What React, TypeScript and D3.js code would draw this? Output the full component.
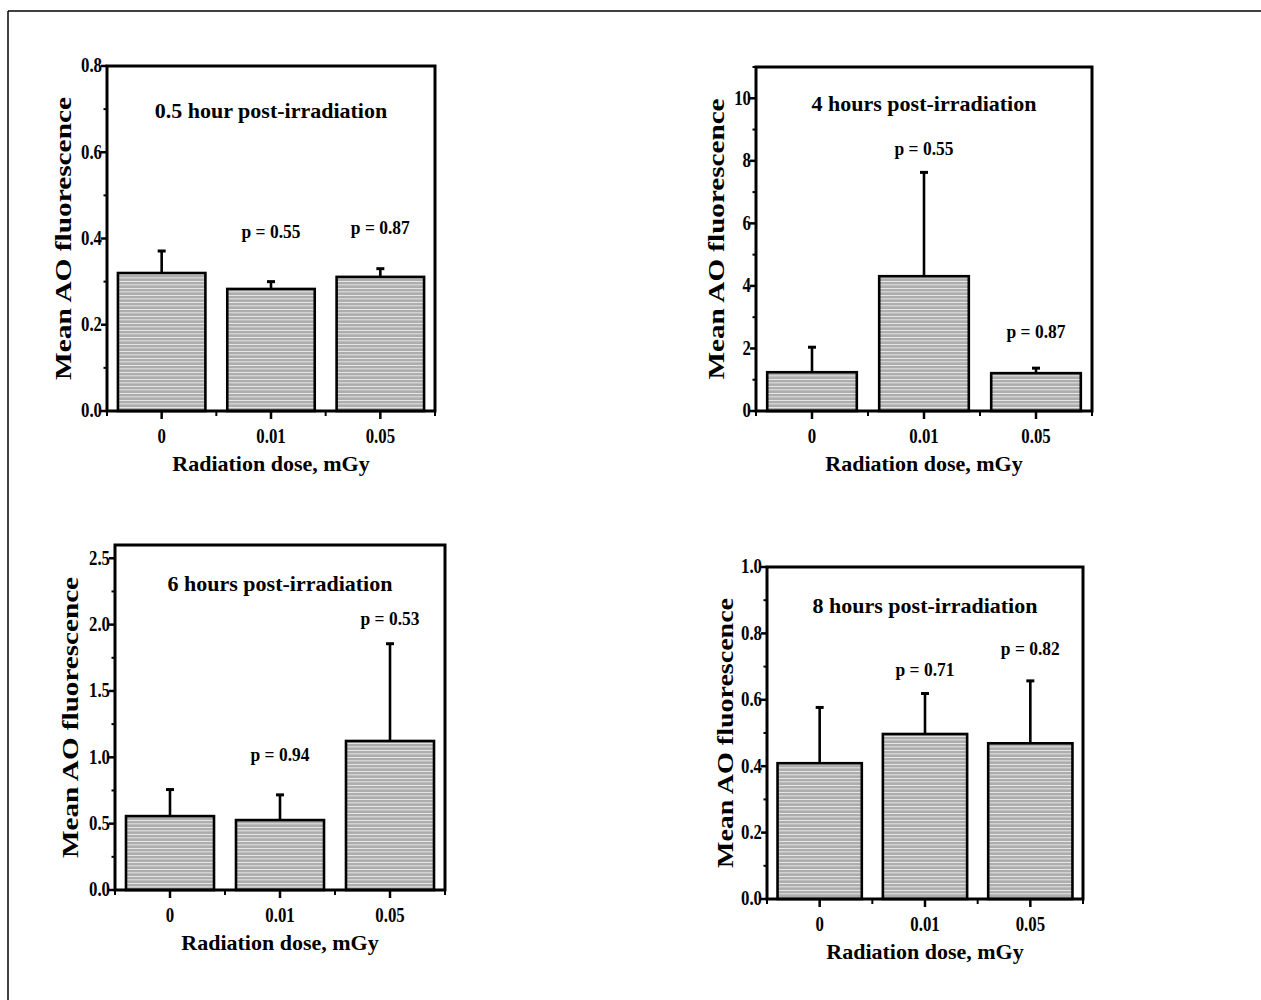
import React from "react";
import * as d3 from "d3";

const doses = ["0", "0.01", "0.05"];
const panelTitles = [
  "0.5 hour post-irradiation",
  "4 hours post-irradiation",
  "6 hours post-irradiation",
  "8 hours post-irradiation",
];
const xAxisLabel = "Radiation dose, mGy";
const yAxisLabel = "Mean AO fluorescence";

const mean05h = [0.32, 0.283, 0.311];
const sd05h = [0.051, 0.017, 0.019];
const mean4h = [1.24, 4.31, 1.21];
const sd4h = [0.8, 3.32, 0.16];
const mean6h = [0.557, 0.527, 1.123];
const sd6h = [0.2, 0.19, 0.733];
const mean8h = [0.409, 0.497, 0.469];
const sd8h = [0.168, 0.122, 0.188];

const pValues05h = ["", "0.55", "0.87"];
const pValues4h = ["", "0.55", "0.87"];
const pValues6h = ["", "0.94", "0.53"];
const pValues8h = ["", "0.71", "0.82"];

// annotation anchors (data units)
const pLabelY05h = [0, 0.415, 0.424];
const pLabelY4h = [0, 8.37, 2.53];
const pLabelY6h = [0, 1.016, 2.047];
const pLabelY8h = [0, 0.689, 0.755];
const titleY = [0.696, 9.82, 2.31, 0.885];

const yMax = [0.8, 11, 2.6, 1.0];
const yMajorStep = [0.2, 2, 0.5, 0.2];
const yTickFormat = [".1f", "d", ".1f", ".1f"];

const means = [mean05h, mean4h, mean6h, mean8h];
const sds = [sd05h, sd4h, sd6h, sd8h];
const pValues = [pValues05h, pValues4h, pValues6h, pValues8h];
const pLabelYs = [pLabelY05h, pLabelY4h, pLabelY6h, pLabelY8h];

// layout
const boxes = [
  { l: 107, t: 66, r: 435, b: 411, yl: 44, yLen: 283 },
  { l: 756, t: 67, r: 1092, b: 411, yl: 40, yLen: 281 },
  { l: 115, t: 545, r: 445, b: 890, yl: 45, yLen: 281 },
  { l: 767, t: 567, r: 1083, b: 899, yl: 42, yLen: 270 },
];

const FONT = "'Liberation Serif', 'Times New Roman', serif";
const SX = 0.84;

function Panel({ idx }: { idx: number }) {
  const bx = boxes[idx];
  const x = d3
    .scaleBand<string>()
    .domain(doses)
    .range([bx.l, bx.r])
    .paddingInner(0.2)
    .paddingOuter(0.1);
  const y = d3.scaleLinear().domain([0, yMax[idx]]).range([bx.b, bx.t]);
  const step = yMajorStep[idx];
  const majors = d3.range(0, yMax[idx] + 1e-9, step);
  const minors = d3.range(step / 2, yMax[idx] + 1e-9, step);
  const fmt = d3.format(yTickFormat[idx]);
  const bw = x.bandwidth();
  const xStep = x.step();
  const boundaries = d3.range(0, doses.length + 1).map((i) => bx.l + i * xStep);
  const cx = (bx.l + bx.r) / 2;

  return (
    <g>
      {doses.map((d, i) => (
        <rect
          key={"bar" + i}
          x={x(d)}
          y={y(means[idx][i])}
          width={bw}
          height={bx.b - y(means[idx][i])}
          fill="url(#stripes)"
          stroke="#000"
          strokeWidth={2.6}
        />
      ))}
      {doses.map((d, i) => {
        const c = (x(d) as number) + bw / 2;
        const top = y(means[idx][i] + sds[idx][i]);
        return (
          <g key={"err" + i}>
            <line x1={c} x2={c} y1={y(means[idx][i])} y2={top} stroke="#000" strokeWidth={2.6} />
            <line x1={c - 4} x2={c + 4} y1={top} y2={top} stroke="#000" strokeWidth={3} />
          </g>
        );
      })}
      <rect
        x={bx.l}
        y={bx.t}
        width={bx.r - bx.l}
        height={bx.b - bx.t}
        fill="none"
        stroke="#000"
        strokeWidth={3}
      />
      {majors.map((v, i) => (
        <g key={"ym" + i}>
          <line x1={bx.l - 6} x2={bx.l} y1={y(v)} y2={y(v)} stroke="#000" strokeWidth={2.5} />
          <text
            transform={`translate(${bx.l - 5},${y(v)}) scale(${SX},1)`}
            textAnchor="end"
            dominantBaseline="central"
            fontFamily={FONT}
            fontWeight="bold"
            fontSize={20}
          >
            {fmt(v)}
          </text>
        </g>
      ))}
      {minors.map((v, i) => (
        <line key={"yn" + i} x1={bx.l - 3.5} x2={bx.l} y1={y(v)} y2={y(v)} stroke="#000" strokeWidth={2} />
      ))}
      {doses.map((d, i) => {
        const c = (x(d) as number) + bw / 2;
        return (
          <g key={"xt" + i}>
            <line x1={c} x2={c} y1={bx.b} y2={bx.b + 8} stroke="#000" strokeWidth={2.5} />
            <text
              transform={`translate(${c},${bx.b + 26}) scale(${SX},1)`}
              textAnchor="middle"
              dominantBaseline="central"
              fontFamily={FONT}
              fontWeight="bold"
              fontSize={20}
            >
              {d}
            </text>
          </g>
        );
      })}
      {boundaries.map((bxv, i) => (
        <line key={"xb" + i} x1={bxv} x2={bxv} y1={bx.b} y2={bx.b + 5} stroke="#000" strokeWidth={2} />
      ))}
      <text
        x={cx}
        y={y(titleY[idx])}
        textAnchor="middle"
        dominantBaseline="central"
        fontFamily={FONT}
        fontWeight="bold"
        fontSize={22}
      >
        {panelTitles[idx]}
      </text>
      {doses.map((d, i) =>
        pValues[idx][i] ? (
          <text
            key={"p" + i}
            transform={`translate(${(x(d) as number) + bw / 2},${y(pLabelYs[idx][i])}) scale(0.92,1)`}
            textAnchor="middle"
            dominantBaseline="central"
            fontFamily={FONT}
            fontWeight="bold"
            fontSize={19}
          >
            {"p = " + pValues[idx][i]}
          </text>
        ) : null
      )}
      <text
        x={cx}
        y={bx.b + 60}
        textAnchor="middle"
        fontFamily={FONT}
        fontWeight="bold"
        fontSize={22}
      >
        {xAxisLabel}
      </text>
      <text
        transform={`translate(${bx.l - bx.yl},${(bx.t + bx.b) / 2}) rotate(-90)`}
        textAnchor="middle"
        dominantBaseline="central"
        fontFamily={FONT}
        fontWeight="bold"
        fontSize={24}
        textLength={bx.yLen}
        lengthAdjust="spacingAndGlyphs"
      >
        {yAxisLabel}
      </text>
    </g>
  );
}

export default function App() {
  return (
    <svg
      width={1261}
      height={1000}
      style={{ position: "absolute", left: 0, top: 0, display: "block", background: "#fff" }}
    >
      <defs>
        <pattern id="stripes" patternUnits="userSpaceOnUse" width={10} height={7}>
          <rect x={0} y={0} width={10} height={7} fill="#adadad" />
          <rect x={0} y={1} width={10} height={1} fill="#e6e6e6" />
          <rect x={0} y={4} width={10} height={1} fill="#d2d2d2" />
          <rect x={0} y={5} width={10} height={1} fill="#bfbfbf" />
        </pattern>
      </defs>
      <rect x={0} y={0} width={1261} height={1000} fill="#fff" />
      <line x1={8} x2={1261} y1={11} y2={11} stroke="#000" strokeWidth={1.5} />
      <line x1={8} x2={8} y1={11} y2={1000} stroke="#000" strokeWidth={1.5} />
      {[0, 1, 2, 3].map((i) => (
        <Panel key={i} idx={i} />
      ))}
    </svg>
  );
}
